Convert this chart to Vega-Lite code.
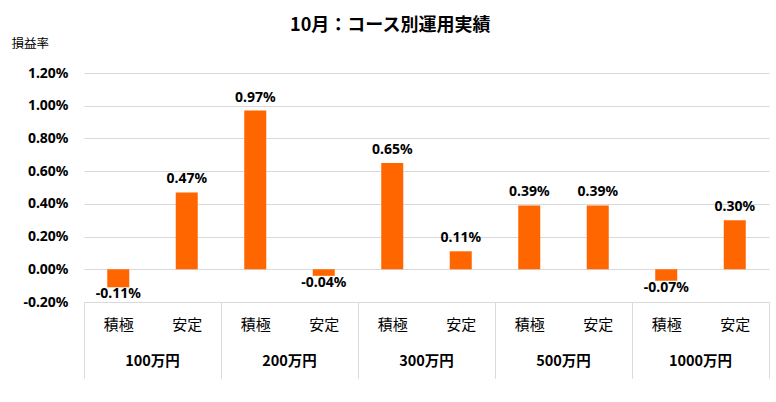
{
  "$schema": "https://vega.github.io/schema/vega-lite/v6.json",
  "background": "white",
  "padding": {"left": 11, "top": 17, "right": 6, "bottom": 0},
  "title": {"text": "10月：コース別運用実績", "fontSize": 18, "fontWeight": "bold", "font": "Noto Sans CJK JP", "color": "#000000", "anchor": "middle", "offset": 2, "dx": 0},
  "data": {"values": [
    {"group": "100万円", "type": "積極", "value": -0.0011},
    {"group": "100万円", "type": "安定", "value": 0.0047},
    {"group": "200万円", "type": "積極", "value": 0.0097},
    {"group": "200万円", "type": "安定", "value": -0.0004},
    {"group": "300万円", "type": "積極", "value": 0.0065},
    {"group": "300万円", "type": "安定", "value": 0.0011},
    {"group": "500万円", "type": "積極", "value": 0.0039},
    {"group": "500万円", "type": "安定", "value": 0.0039},
    {"group": "1000万円", "type": "積極", "value": -0.0007},
    {"group": "1000万円", "type": "安定", "value": 0.0030}
  ]},
  "facet": {
    "column": {
      "field": "group", "type": "nominal",
      "sort": ["100万円", "200万円", "300万円", "500万円", "1000万円"],
      "header": {"title": null, "labelOrient": "bottom", "labelFontWeight": "bold", "labelFontSize": 14.5, "labelFont": "Noto Sans CJK JP", "labelColor": "#000000", "labelPadding": -24}
    }
  },
  "spacing": 0,
  "spec": {
    "width": 137,
    "height": 229,
    "transform": [{"calculate": "replace(format(datum.value, '.2%'), '\u2212', '-')", "as": "label"}],
    "encoding": {
      "x": {
        "field": "type", "type": "nominal", "sort": ["積極", "安定"],
        "scale": {"paddingInner": 0, "paddingOuter": 0},
        "axis": {
          "title": null, "labelAngle": 0, "labelFontSize": 15, "labelFont": "Noto Sans CJK JP", "labelColor": "#000000",
          "labelPadding": -61, "domainColor": "#d9d9d9", "tickSize": 76, "tickBand": "extent",
          "tickColor": {"condition": {"test": "datum.value === '安定' || datum.extra", "value": "#d9d9d9"}, "value": "transparent"}
        }
      },
      "y": {
        "field": "value", "type": "quantitative",
        "scale": {"domain": [-0.002, 0.012], "nice": false, "zero": false},
        "axis": {
          "title": "損益率", "titleAngle": 0, "titleFont": "Noto Sans CJK JP", "titleFontSize": 12.5, "titleFontWeight": "normal", "titleColor": "#000000",
          "titleAlign": "left", "titleBaseline": "bottom", "titleX": -73, "titleY": -23,
          "format": ".2%", "labelExpr": "replace(datum.label, '\u2212', '-')",
          "values": [-0.002, 0, 0.002, 0.004, 0.006, 0.008, 0.01, 0.012],
          "labelFontSize": 14, "labelFontWeight": "bold", "labelColor": "#000000", "labelFont": "Noto Sans",
          "labelPadding": 16, "domain": false, "ticks": false, "gridColor": "#d9d9d9"
        }
      }
    },
    "layer": [
      {"mark": {"type": "bar", "size": 22, "color": "#FF6600"}},
      {
        "transform": [{"filter": "datum.value >= 0"}],
        "mark": {"type": "text", "baseline": "bottom", "dy": -6, "fontSize": 14, "fontWeight": "bold", "font": "Noto Sans", "color": "#000000"},
        "encoding": {"text": {"field": "label", "type": "nominal"}}
      },
      {
        "transform": [{"filter": "datum.value < 0"}],
        "mark": {"type": "text", "baseline": "top", "dy": 0, "fontSize": 14, "fontWeight": "bold", "font": "Noto Sans", "color": "#000000"},
        "encoding": {"text": {"field": "label", "type": "nominal"}}
      }
    ]
  },
  "config": {"view": {"stroke": null}}
}
